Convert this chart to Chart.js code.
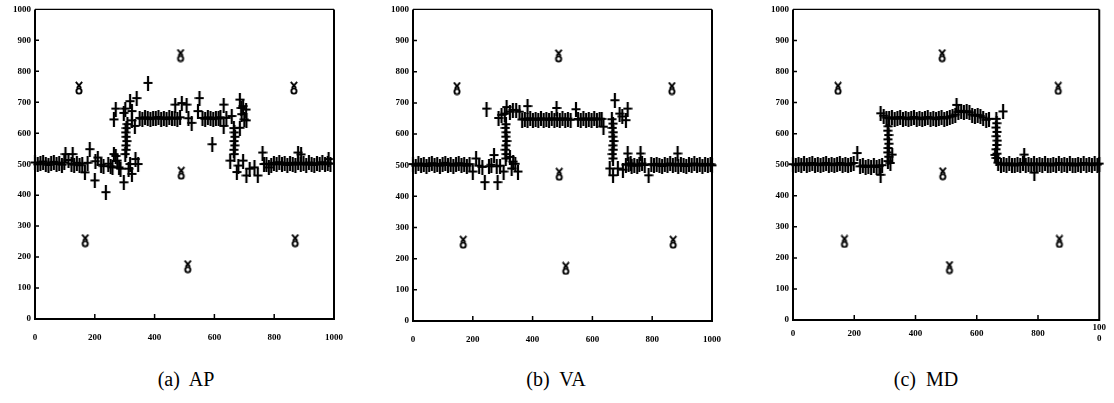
<!DOCTYPE html>
<html>
<head>
<meta charset="utf-8">
<script src="https://cdn.jsdelivr.net/npm/chart.js@4.4.1/dist/chart.umd.min.js"></script>
<style>
  html, body { margin: 0; padding: 0; background: #fff; width: 1114px; height: 403px; overflow: hidden; }
  .panel { position: absolute; top: 0; width: 356px; height: 360px; }
  .cap { position: absolute; top: 368px; width: 200px; text-align: center; font-family: "Liberation Serif", serif; font-size: 20px; color: #000; white-space: pre; }
</style>
</head>
<body>
<div class="panel" style="left:0px"><canvas id="cAP" width="356" height="360"></canvas></div>
<div class="panel" style="left:378px"><canvas id="cVA" width="356" height="360"></canvas></div>
<div class="panel" style="left:758px"><canvas id="cMD" width="356" height="360"></canvas></div>
<div class="cap" id="capA" style="left:86px"></div>
<div class="cap" id="capB" style="left:456px"></div>
<div class="cap" id="capC" style="left:826px"></div>
<script>
// ---------------- DATA ----------------
const captions = ['(a)  AP', '(b)  VA', '(c)  MD'];
const xTickLabels = ['0', '200', '400', '600', '800', '1000'];
const xTickLabelsMD = ['0', '200', '400', '600', '800', ['100', '0']];
const yTickLabels = ['0','100','200','300','400','500','600','700','800','900','1000'];

// reference (anchor) nodes
const anchorPts = [[147,746],[168,253],[487,851],[489,471],[511,169],[866,746],[870,253]];

// estimated positions, AP method
const apPts = [
 [0,504],[9,498],[18,503],[27,507],[36,500],[45,496],[54,503],[63,506],[72,499],[81,502],[90,497],[98,504],
 [102,531],[112,512],[126,531],[122,500],[131,497],[140,503],[149,495],[158,500],[167,472],[183,547],[176,503],
 [200,446],[210,520],[202,508],[221,497],[229,492],[237,408],[245,500],[253,492],[259,488],[264,531],[275,510],
 [281,488],[286,484],[297,440],[270,525],[313,484],[324,467],[336,515],[345,499],[318,499],
 [302,531],[305,545],[304,559],[307,573],[305,587],[303,601],[306,615],[309,628],
 [270,678],[302,678],[264,643],[297,664],[318,702],[324,670],[340,712],[334,622],[324,640],[378,761],
 [350,648],[359,645],[368,650],[377,647],[386,644],[395,649],[404,646],[413,651],[422,645],[431,648],[440,644],
 [449,650],[458,646],[469,691],[491,696],[467,648],[476,645],[485,650],[507,691],[513,647],[524,632],[545,670],
 [550,712],[560,648],[569,645],[578,650],[587,647],[596,644],[605,649],[614,646],[620,650],[593,563],[631,691],
 [631,622],[640,648],
 [685,707],[690,680],[706,675],[700,643],[685,616],[658,654],[696,686],[691,660],[707,640],
 [667,531],[665,545],[668,559],[666,573],[669,587],[667,601],[665,615],
 [653,510],[680,494],[675,473],[696,510],[707,462],[718,484],[734,488],[745,462],[761,536],[766,499],[782,488],[774,500],
 [790,497],[799,503],[808,499],[817,505],[826,498],[835,502],[844,496],[853,503],[862,500],[871,497],[880,536],
 [890,530],[880,504],[889,499],[898,502],[907,497],[916,504],[925,500],[934,496],[943,502],[952,499],[961,505],
 [970,498],[979,502],[982,515],[988,500]
];

// estimated positions, VA method
const vaPts = [
 [0,502],[9,497],[18,504],[27,499],[36,503],[45,496],[54,501],[63,505],[72,498],[81,503],[90,497],[99,502],
 [108,506],[117,499],[126,503],[135,497],[144,501],[153,505],[162,498],[171,503],[180,497],[189,502],
 [200,478],[211,520],[221,497],[232,493],[240,444],[246,680],[254,495],[262,500],[271,531],[280,495],[283,444],
 [291,497],[303,478],[324,525],[330,488],[335,510],[351,478],[342,503],
 [310,520],[312,534],[309,548],[311,562],[313,576],[310,590],[312,604],[309,618],[311,630],
 [286,650],[296,660],[307,664],[313,685],[324,670],[334,676],[345,675],[356,670],[383,688],[480,682],
 [365,645],[374,648],[383,644],[392,649],[401,645],[410,648],[419,644],[428,649],[437,645],[446,648],[455,644],
 [464,649],[473,645],[482,648],[491,644],[500,649],[509,645],[518,648],[527,644],[545,678],[552,647],[561,644],
 [570,649],[579,645],[588,648],[597,644],[606,649],[615,645],[624,648],[631,647],
 [637,622],[675,707],[691,664],[712,643],[718,680],[700,655],
 [669,520],[667,534],[670,548],[668,562],[671,576],[668,590],[670,604],[667,618],[669,632],[665,646],
 [658,488],[669,466],[685,488],[702,484],[718,536],[728,504],[761,536],[766,504],[788,466],[740,500],[750,497],
 [712,500],[721,503],[731,497],[757,501],[775,499],[797,502],[806,498],[815,503],[824,499],[833,496],[842,502],
 [851,498],[860,504],[869,499],[878,502],[885,536],[887,497],[896,503],[905,499],[914,496],[923,502],[932,498],
 [941,504],[950,499],[959,502],[968,497],[977,503],[986,499],[995,502],[1000,498]
];

// estimated positions, MD method
const mdPts = [
 [0,500],[9,497],[18,502],[27,499],[36,503],[45,497],[54,501],[63,504],[72,498],[81,502],[90,497],[99,501],
 [108,504],[117,498],[126,502],[135,497],[144,501],[153,504],[162,498],[171,502],[180,497],[189,501],[198,504],
 [210,536],
 [219,493],[228,496],[237,491],[246,495],[255,492],[264,496],[273,491],[282,494],[286,466],[291,497],
 [310,510],[312,524],[309,538],[311,552],[313,566],[310,580],[312,594],[309,608],[311,622],[318,504],[324,531],
 [286,664],[296,656],[305,650],
 [314,648],[323,651],[332,646],[341,649],[350,652],[359,647],[368,650],[377,645],[386,649],[395,652],[404,647],
 [413,650],[422,645],[431,649],[440,652],[449,647],[458,650],[467,645],[476,649],[485,652],[494,647],[503,650],
 [512,653],[521,655],[530,660],[534,691],[540,668],[549,672],[558,668],[567,671],[576,667],[585,660],[594,656],
 [603,659],[612,655],[621,650],[631,643],[640,646],[686,670],
 [664,520],[666,534],[663,548],[665,562],[667,576],[664,590],[666,604],[663,618],[665,632],[664,646],[660,530],
 [670,505],[679,499],[688,502],[697,497],[706,503],[715,499],[724,496],[733,502],[742,498],[755,531],[751,504],
 [760,499],[769,502],[778,497],[788,473],[787,503],[796,499],[805,502],[814,497],[823,503],[832,499],[841,496],
 [850,502],[859,498],[868,504],[877,499],[886,502],[895,497],[904,503],[913,499],[922,496],[931,502],[940,498],
 [949,504],[958,499],[967,502],[976,497],[985,503],[994,499],[1000,502]
];

document.getElementById('capA').textContent = captions[0];
document.getElementById('capB').textContent = captions[1];
document.getElementById('capC').textContent = captions[2];

// ---------------- MARKERS ----------------
function plusMarker() {
  const c = document.createElement('canvas');
  c.width = 10; c.height = 15;
  const g = c.getContext('2d');
  g.strokeStyle = '#000'; g.lineWidth = 2.2;
  g.beginPath();
  g.moveTo(5, 0); g.lineTo(5, 15);
  g.moveTo(0.5, 7); g.lineTo(9.5, 7);
  g.stroke();
  return c;
}
function anchorMarker() {
  const c = document.createElement('canvas');
  c.width = 10; c.height = 14;
  const g = c.getContext('2d');
  g.strokeStyle = '#000'; g.lineWidth = 1.9;
  g.beginPath();
  g.moveTo(1.8, 0.8); g.lineTo(7.2, 6.8);
  g.moveTo(8.2, 0.8); g.lineTo(2.8, 6.8);
  g.stroke();
  g.beginPath();
  g.arc(5, 10, 2.6, 0, Math.PI * 2);
  g.stroke();
  return c;
}
const PLUS = plusMarker();
const ANCHOR = anchorMarker();

// frame + inward ticks
const framePlugin = {
  id: 'frame',
  afterDraw(chart) {
    const { ctx, chartArea: a, scales } = chart;
    ctx.save();
    ctx.strokeStyle = '#000';
    ctx.lineWidth = 2;
    ctx.beginPath();
    ctx.moveTo(a.left, a.top); ctx.lineTo(a.left, a.bottom); ctx.lineTo(a.right, a.bottom); ctx.lineTo(a.right, a.top);
    ctx.stroke();
    ctx.lineWidth = 1.4;
    ctx.beginPath(); ctx.moveTo(a.left, a.top); ctx.lineTo(a.right, a.top); ctx.stroke();
    ctx.lineWidth = 1.5;
    ctx.beginPath();
    [200, 400, 600, 800].forEach(v => {
      const px = scales.x.getPixelForValue(v);
      ctx.moveTo(px, a.bottom); ctx.lineTo(px, a.bottom - 5);
    });
    [100, 200, 300, 400, 500, 600, 700, 800, 900].forEach(v => {
      const py = scales.y.getPixelForValue(v);
      ctx.moveTo(a.left, py); ctx.lineTo(a.left + 4, py);
    });
    ctx.stroke();
    ctx.restore();
  }
};

function makeChart(id, pts, xLabels, top, bottom, multi) {
  const H = 360;
  const tickFont = { family: 'Liberation Serif', size: 9, weight: 'bold' };
  return new Chart(document.getElementById(id), {
    type: 'scatter',
    data: {
      datasets: [
        { data: pts.map(p => ({ x: p[0], y: p[1] })), pointStyle: PLUS, pointRadius: 5, clip: false },
        { data: anchorPts.map(p => ({ x: p[0], y: p[1] })), pointStyle: ANCHOR, pointRadius: 5, clip: false }
      ]
    },
    options: {
      responsive: false, animation: false, devicePixelRatio: 1,
      layout: { padding: { left: 0, right: 12, top: top, bottom: 0 } },
      plugins: { legend: { display: false }, tooltip: { enabled: false } },
      scales: {
        x: {
          type: 'linear', min: 0, max: 1000,
          afterFit(s) { s.height = H - bottom; },
          grid: { display: false, drawTicks: false },
          border: { display: false },
          ticks: { stepSize: 200, maxRotation: 0, autoSkip: false, padding: multi ? 8 : 13,
                   crossAlign: multi ? 'center' : 'near', color: '#000', font: tickFont,
                   callback: (v, i) => xLabels[i] }
        },
        y: {
          type: 'linear', min: 0, max: 1000,
          afterFit(s) { s.width = 35; },
          grid: { display: false, drawTicks: false },
          border: { display: false },
          ticks: { stepSize: 100, autoSkip: false, padding: 4, color: '#000', font: tickFont,
                   callback: (v, i) => yTickLabels[i] }
        }
      }
    },
    plugins: [framePlugin]
  });
}

makeChart('cAP', apPts, xTickLabels, 7, 319, false);
makeChart('cVA', vaPts, xTickLabels, 6, 321, false);
makeChart('cMD', mdPts, xTickLabelsMD, 5, 320, true);
</script>
</body>
</html>
